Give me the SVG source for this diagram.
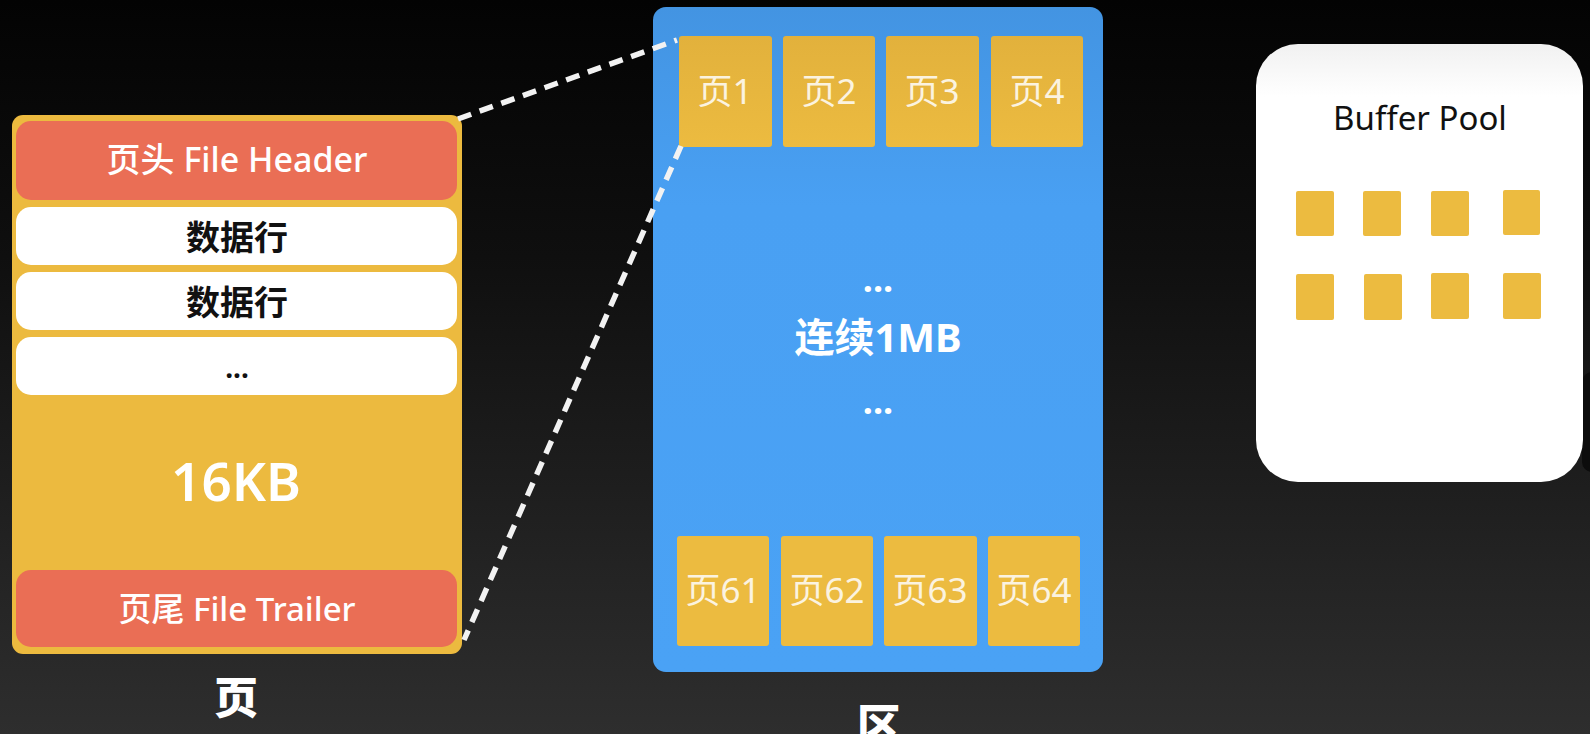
<svg xmlns="http://www.w3.org/2000/svg" width="1590" height="734" viewBox="0 0 1590 734">
<defs>
<linearGradient id="bg" x1="0" y1="0" x2="0" y2="1">
<stop offset="0" stop-color="#030303"/>
<stop offset="0.35" stop-color="#0f0f0f"/>
<stop offset="1" stop-color="#2e2e2e"/>
</linearGradient>
<linearGradient id="blue" x1="0" y1="0" x2="0" y2="1">
<stop offset="0" stop-color="#4394e2"/>
<stop offset="0.3" stop-color="#49a0f3"/>
<stop offset="1" stop-color="#4aa2f5"/>
</linearGradient>
<linearGradient id="pg" x1="0" y1="0" x2="0" y2="1">
<stop offset="0" stop-color="#e2b13c"/>
<stop offset="1" stop-color="#ecbb40"/>
</linearGradient>
<linearGradient id="wp" x1="0" y1="0" x2="0" y2="1">
<stop offset="0" stop-color="#f1f1f1"/>
<stop offset="0.12" stop-color="#ffffff"/>
<stop offset="1" stop-color="#ffffff"/>
</linearGradient>
<style>
.t{font-family:"Noto Sans","Noto Sans CJK SC",sans-serif;text-anchor:middle}
.wt{fill:#ffffff}
.ft{fill:#fbf3e0;font-size:35px}
.pg{fill:url(#pg)}
.sq{fill:#ecbb40}
.hd{fill:#ea6e55}
.row{fill:#ffffff}
.dash{stroke:#f2f2f2;stroke-width:5.5;stroke-dasharray:14 9;fill:none}
</style>
</defs>
<rect x="0" y="0" width="1590" height="734" fill="url(#bg)"/>
<rect x="1582" y="372" width="20" height="100" rx="10" fill="#0c0c0c"/>

<g id="page">
<rect x="12" y="115" width="450" height="539" rx="11" fill="#ecba3f"/>
<rect class="hd" x="16" y="121" width="441" height="79" rx="15"/>
<text class="t wt" x="237" y="172" font-size="34" font-weight="500">页头 File Header</text>
<rect class="row" x="16" y="207" width="441" height="58" rx="15"/>
<text class="t" x="237" y="250" font-size="34" font-weight="700" fill="#111">数据行</text>
<rect class="row" x="16" y="272" width="441" height="58" rx="15"/>
<text class="t" x="237" y="315" font-size="34" font-weight="700" fill="#111">数据行</text>
<rect class="row" x="16" y="337" width="441" height="58" rx="15"/>
<text class="t" x="237" y="378" font-size="28" font-weight="700" fill="#111">...</text>
<text class="t wt" x="236" y="501" font-size="53" font-weight="600">16KB</text>
<rect class="hd" x="16" y="570" width="441" height="77" rx="15"/>
<text class="t wt" x="237" y="621" font-size="33" font-weight="500">页尾 File Trailer</text>
</g>
<g id="page-label">
<text class="t wt" x="236" y="714" font-size="44" font-weight="900">页</text>
</g>

<g id="extent">
<rect x="653" y="7" width="450" height="665" rx="13" fill="url(#blue)"/>
<rect class="pg" x="679" y="36" width="93" height="111" rx="3"/>
<text class="t ft" x="725" y="104">页1</text>
<rect class="pg" x="783" y="36" width="92" height="111" rx="3"/>
<text class="t ft" x="829" y="104">页2</text>
<rect class="pg" x="886" y="36" width="93" height="111" rx="3"/>
<text class="t ft" x="932" y="104">页3</text>
<rect class="pg" x="991" y="36" width="92" height="111" rx="3"/>
<text class="t ft" x="1037" y="104">页4</text>
<text class="t wt" x="878" y="292" font-size="36" font-weight="700">...</text>
<text class="t wt" x="878" y="352" font-size="40" font-weight="700">连续1MB</text>
<text class="t wt" x="878" y="414" font-size="36" font-weight="700">...</text>
<rect class="sq" x="677" y="536" width="92" height="110" rx="3"/>
<text class="t ft" x="723" y="603">页61</text>
<rect class="sq" x="781" y="536" width="92" height="110" rx="3"/>
<text class="t ft" x="827" y="603">页62</text>
<rect class="sq" x="884" y="536" width="93" height="110" rx="3"/>
<text class="t ft" x="930" y="603">页63</text>
<rect class="sq" x="988" y="536" width="92" height="110" rx="3"/>
<text class="t ft" x="1034" y="603">页64</text>
</g>
<g id="extent-label">
<text class="t wt" x="879" y="742" font-size="44" font-weight="900">区</text>
</g>

<g id="buffer-pool">
<rect x="1256" y="44" width="327" height="438" rx="42" fill="url(#wp)"/>
<text class="t" x="1420" y="130" font-size="33" fill="#111">Buffer Pool</text>
<rect class="sq" x="1296" y="191" width="38" height="45" rx="2"/>
<rect class="sq" x="1363" y="191" width="38" height="45" rx="2"/>
<rect class="sq" x="1431" y="191" width="38" height="45" rx="2"/>
<rect class="sq" x="1503" y="190" width="37" height="45" rx="2"/>
<rect class="sq" x="1296" y="274" width="38" height="46" rx="2"/>
<rect class="sq" x="1364" y="274" width="38" height="46" rx="2"/>
<rect class="sq" x="1431" y="273" width="38" height="46" rx="2"/>
<rect class="sq" x="1503" y="273" width="38" height="46" rx="2"/>
</g>

<g id="connectors">
<line class="dash" x1="458" y1="119" x2="677" y2="40"/>
<line class="dash" x1="681" y1="146" x2="464" y2="640"/>
</g>
</svg>
